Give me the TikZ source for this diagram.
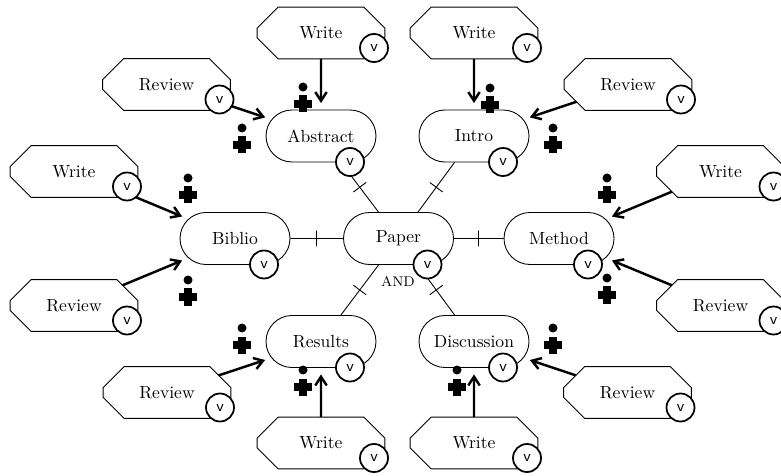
\documentclass[tikz,border=0pt]{standalone}
\usetikzlibrary{shapes.misc,arrows.meta}
\pgfdeclarelayer{background}
\pgfsetlayers{background,main}
\begin{document}
\begin{tikzpicture}[x=0.02cm,y=-0.02cm,
  topic/.style={rounded rectangle, draw, line width=0.5pt, minimum width=2.2cm, minimum height=1.04cm, inner sep=0pt, fill=white},
  task/.style={rectangle, minimum width=2.54cm, minimum height=1.02cm, inner sep=0pt},
  taskline/.style={line width=0.5pt, fill=white},
  vmark/.style={circle, draw, line width=1pt, fill=white, minimum size=0.56cm, inner sep=0pt, font=\sffamily\small},
  conn/.style={line width=0.5pt},
  tickmark/.style={draw, line width=0.5pt, minimum height=0.32cm, minimum width=0pt, inner sep=0pt, sloped},
  arr/.style={line width=1.4pt, -{Straight Barb[length=5pt,width=6.5pt]}, shorten >=0.13cm},
  dotplus/.pic={
    \fill (-9,-3.75) rectangle (9,3.75);
    \fill (-3.75,-8.5) rectangle (3.75,8.5);
    \fill (0,-17) circle[radius=0.09cm];
  }
]
\useasboundingbox (0,0) rectangle (781,476);

% main topics
\node[topic] (paper) at (398.5,238.5) {Paper};
\node[topic] (abs)   at (321,136)     {Abstract};
\node[topic] (intro) at (474,136)     {Intro};
\node[topic] (bib)   at (235,238.5)   {Biblio};
\node[topic] (meth)  at (559,238.5)   {Method};
\node[topic] (res)   at (321,341.5)   {Results};
\node[topic] (disc)  at (474,341.5)   {Discussion};

% tasks (text on main layer, outline below)
\node[task] (wA) at (321,33)       {Write};
\node[task] (rA) at (166.5,84.5)   {Review};
\node[task] (wI) at (474,33)       {Write};
\node[task] (rI) at (628,84.5)     {Review};
\node[task] (wB) at (74,171.5)     {Write};
\node[task] (rB) at (74,305.5)     {Review};
\node[task] (wM) at (720.5,171.5)  {Write};
\node[task] (rM) at (720.5,305.5)  {Review};
\node[task] (rR) at (167,392.5)    {Review};
\node[task] (wR) at (321,443)      {Write};
\node[task] (rD) at (627.5,392.5)  {Review};
\node[task] (wD) at (474,443)      {Write};

\begin{pgfonlayer}{background}
% task arrows, from task centre; the task outline hides the inner part
\draw[arr] (wA.center) -- (abs);
\draw[arr] (rA.center) -- (abs);
\draw[arr] (wI.center) -- (intro);
\draw[arr] (rI.center) -- (intro);
\draw[arr] (wB.center) -- (bib);
\draw[arr] (rB.center) -- (bib);
\draw[arr] (wM.center) -- (meth);
\draw[arr] (rM.center) -- (meth);
\draw[arr] (rR.center) -- (res);
\draw[arr] (wR.center) -- (res);
\draw[arr] (rD.center) -- (disc);
\draw[arr] (wD.center) -- (disc);
\foreach \n in {wA,rA,wI,rI,wB,rB,wM,rM,rR,wR,rD,wD}
  \draw[taskline] ([shift={(21,0)}]\n.north west) -- ([shift={(-21,0)}]\n.north east)
    -- ([shift={(0,21)}]\n.north east) -- ([shift={(0,-21)}]\n.south east)
    -- ([shift={(-21,0)}]\n.south east) -- ([shift={(21,0)}]\n.south west)
    -- ([shift={(0,-21)}]\n.south west) -- ([shift={(0,21)}]\n.north west) -- cycle;
\end{pgfonlayer}

% decomposition connectors
\draw[conn] (paper) -- node[tickmark] (t1) {} (abs);
\draw[conn] (paper) -- node[tickmark] (t2) {} (intro);
\draw[conn] (paper) -- node[tickmark] (t3) {} (bib);
\draw[conn] (paper) -- node[tickmark] (t4) {} (meth);
\draw[conn] (paper) -- node[tickmark] (t5) {} (res);
\draw[conn] (paper) -- node[tickmark] (t6) {} (disc);
\node[font=\footnotesize] (andlbl) at (398,281) {AND};

% icons
\pic at (303,104) {dotplus};
\pic at (242,145) {dotplus};
\pic at (490,105) {dotplus};
\pic at (553,145) {dotplus};
\pic at (188,195) {dotplus};
\pic at (188,297) {dotplus};
\pic at (607,195) {dotplus};
\pic at (607,295) {dotplus};
\pic at (242,345) {dotplus};
\pic at (303,387) {dotplus};
\pic at (553,345) {dotplus};
\pic at (457,387) {dotplus};

% v marks
\foreach \n in {paper,abs,intro,bib,meth,res,disc}
  \node[vmark] (v\n) at ([shift={(29,26)}]\n.center) {v};
\foreach \n in {wA,rA,wI,rI,wB,rB,wM,rM,rR,wR,rD,wD}
  \node[vmark] (v\n) at ([shift={(53,15)}]\n.center) {v};
\end{tikzpicture}
\end{document}
